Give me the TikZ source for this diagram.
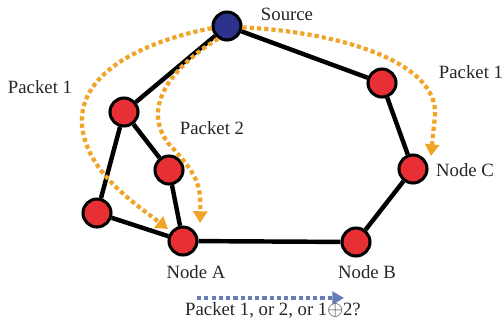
\documentclass[tikz,border=0pt]{standalone}
\usepackage{fontspec}
\setmainfont{Liberation Serif}
\usetikzlibrary{arrows.meta}
\definecolor{srcblue}{RGB}{44,50,140}
\definecolor{nodered}{RGB}{232,48,52}
\definecolor{pktorange}{RGB}{240,165,40}
\definecolor{qblue}{RGB}{104,124,182}
\begin{document}
\begin{tikzpicture}
        [x=0.03cm, y=-0.03cm,
        node/.style={circle, draw=black, line width=2.6pt, minimum size=0.84cm, inner sep=0pt, fill=nodered},
        source/.style={node, fill=srcblue},
        edge/.style={line width=3.8pt, black},
        packet/.style={pktorange, line width=3.6pt, dash pattern=on 3.6pt off 2.6pt,
          -{Triangle[length=10pt, width=12pt]}},
        query/.style={qblue, line width=3.6pt, dash pattern=on 3.6pt off 2.6pt,
          -{Triangle[length=10pt, width=11pt]}},
        txt/.style={font=\fontsize{16}{19}\selectfont, text=black!85}]

        \useasboundingbox (0,0) rectangle (502,324);

        \node[source] (src) at (227,26) {};
        \node[node] (p) at (124,112) {};
        \node[node] (q) at (169,170) {};
        \node[node] (r) at (97,213) {};
        \node[node] (a) at (183,241) {};
        \node[node] (b) at (356,242) {};
        \node[node] (c) at (413,169) {};
        \node[node] (d) at (382,83) {};

        % labels
        \node[txt] (lsrc) at (287,14) {Source};
        \node[txt] (lpk1) at (40,87) {Packet 1};
        \node[txt] (lpk2) at (212,128) {Packet 2};
        \node[txt] (lpk1r) at (471,72) {Packet 1};
        \node[txt] (la) at (196,272) {Node A};
        \node[txt] (lb) at (367,272) {Node B};
        \node[txt] (lc) at (465,170) {Node C};
        \node[txt] (lq) at (273,310) {Packet 1, or 2, or 1$\oplus$2?};

        % network edges
        \draw[edge] (src) -- (p);
        \draw[edge] (src) -- (d);
        \draw[edge] (p) -- (q);
        \draw[edge] (p) -- (r);
        \draw[edge] (q) -- (a);
        \draw[edge] (r) -- (a);
        \draw[edge] (a) -- (b);
        \draw[edge] (b) -- (c);
        \draw[edge] (c) -- (d);

        % packet routes
        \coordinate (tipa1) at (168,229);
        \coordinate (tipa2) at (200,223);
        \coordinate (tipc) at (431,156);
        \draw[packet] (src.188) .. controls (150,40) and (78,70) .. (82,125)
                .. controls (86,170) and (130,200) .. (tipa1);
        \draw[packet] (src.235) .. controls (175,65) and (140,105) .. (168,143)
                .. controls (198,175) and (201,185) .. (tipa2);
        \draw[packet] (src.-5) .. controls (340,32) and (438,62) .. (435,115)
                -- (tipc);

        % question arrow
        \coordinate (qs) at (197,298);
        \coordinate (qe) at (344,298);
        \draw[query] (qs) -- (qe);

        \end{tikzpicture}
\end{document}
